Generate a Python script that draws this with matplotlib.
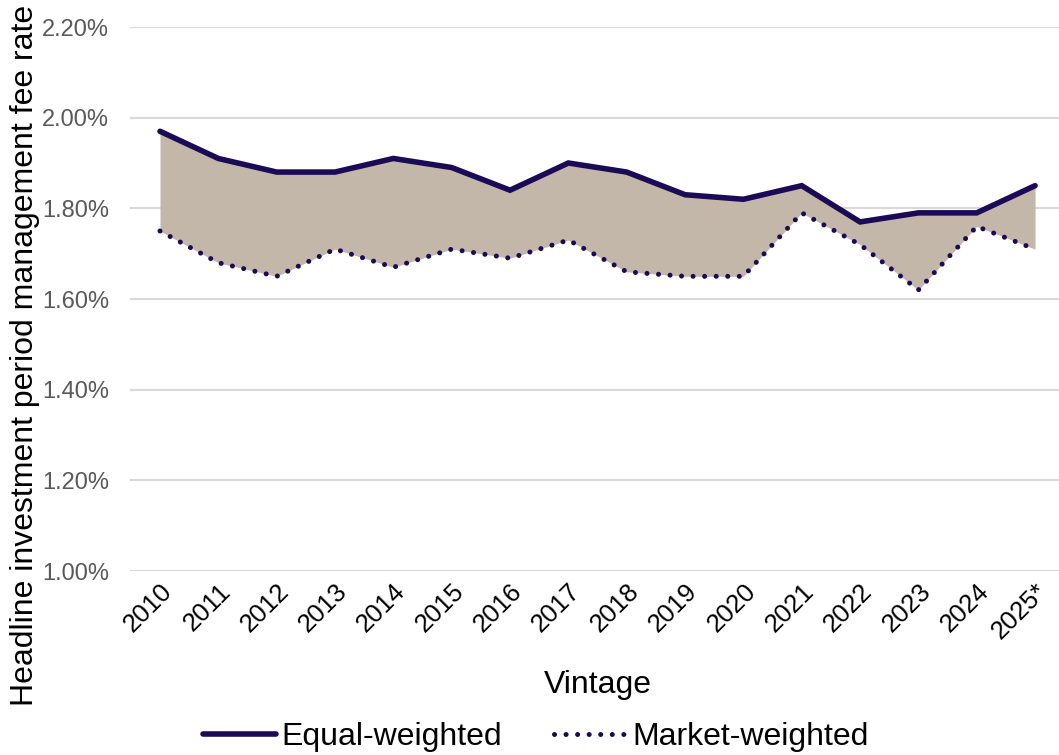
import matplotlib
matplotlib.use("Agg")
import matplotlib.pyplot as plt
import numpy as np

plt.rcParams['font.family'] = ['Liberation Sans', 'DejaVu Sans']

vintages = ["2010", "2011", "2012", "2013", "2014", "2015", "2016", "2017",
            "2018", "2019", "2020", "2021", "2022", "2023", "2024", "2025*"]
equal_weighted = [1.97, 1.91, 1.88, 1.88, 1.91, 1.89, 1.84, 1.90,
                  1.88, 1.83, 1.82, 1.85, 1.77, 1.79, 1.79, 1.85]
market_weighted = [1.75, 1.68, 1.65, 1.71, 1.67, 1.71, 1.69, 1.73,
                   1.66, 1.65, 1.65, 1.79, 1.72, 1.62, 1.76, 1.71]
y_ticks = [1.00, 1.20, 1.40, 1.60, 1.80, 2.00, 2.20]

line_color = "#1b0a55"
fill_color = "#c3b7aa"

W, H = 1059, 755
fig = plt.figure(figsize=(W/100, H/100), dpi=100)
ax = fig.add_axes([130/W, 1 - 571/H, 929/W, (571 - 27)/H])

x = np.arange(len(vintages))
ax.fill_between(x, market_weighted, equal_weighted, color=fill_color, linewidth=0, zorder=1)
ax.plot(x, equal_weighted, color=line_color, linewidth=4, solid_capstyle='round',
        solid_joinstyle='miter', label="Equal-weighted", zorder=3)
ax.plot(x, market_weighted, color=line_color, linewidth=3.6, linestyle=(0, (0.01, 2.3)),
        dash_capstyle='round', label="Market-weighted", zorder=3)

ax.set_xlim(-0.514, len(vintages) - 1 + 0.41)
ax.set_ylim(1.0, 2.2)
ax.set_yticks(y_ticks)
ax.set_yticklabels([f"{v:.2f}%" for v in y_ticks], color="#595959", fontsize=17)
ax.set_xticks(x)
ax.set_xticklabels(vintages, rotation=45, ha='right', rotation_mode='anchor', fontsize=18.5, color='black')
ax.tick_params(axis='both', length=0)
ax.tick_params(axis='y', pad=15)
ax.tick_params(axis='x', pad=6)
ax.grid(axis='y', color="#d9d9d9", linewidth=1.5, zorder=0)
ax.set_axisbelow(True)
for s in ax.spines.values():
    s.set_visible(False)

fig.text(598/W, 1 - 685/H, "Vintage", fontsize=23, ha='center', va='center')
fig.text(25/W, 1 - 355/H, "Headline investment period management fee rate", fontsize=23,
         rotation=90, ha='center', va='center')

leg = fig.legend(loc='center', bbox_to_anchor=(536/W, 1 - 737/H), ncol=2, frameon=False,
                 fontsize=23, handlelength=2.3, handletextpad=0.15, columnspacing=1.65,
                 borderaxespad=0, borderpad=0)

fig.savefig("out.png", dpi=100)
